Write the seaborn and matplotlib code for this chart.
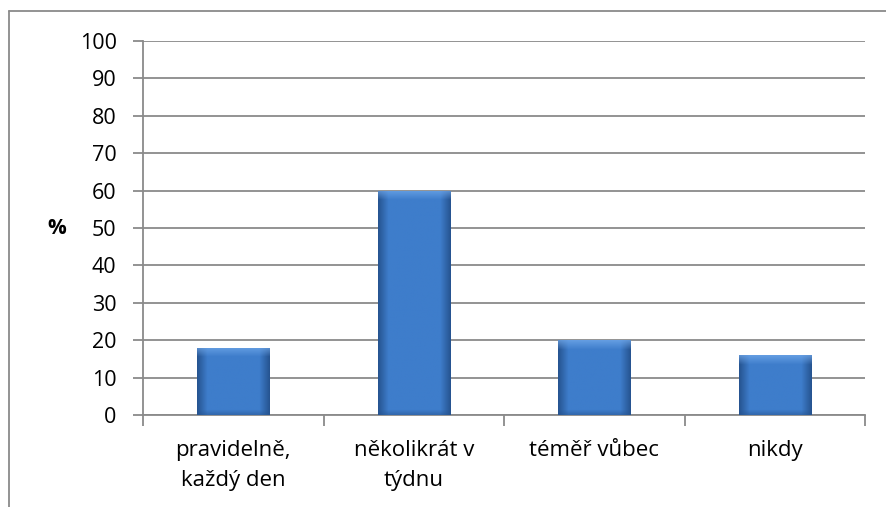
import numpy as np
import pandas as pd
import matplotlib
matplotlib.use("Agg")
from matplotlib import pyplot as plt
from matplotlib.lines import Line2D
import seaborn as sns

categories = ["pravidelně,\nkaždý den", "několikrát v\ntýdnu", "téměř vůbec", "nikdy"]
values = [18, 60, 20, 16]
y_ticks = list(range(0, 101, 10))

sns.set_style("white")
plt.rcParams['font.family'] = ['Open Sans', 'DejaVu Sans']
plt.rcParams['text.color'] = 'black'
plt.rcParams['xtick.color'] = 'black'
plt.rcParams['ytick.color'] = 'black'

df = pd.DataFrame({"kategorie": categories, "procenta": values})

fig = plt.figure(figsize=(8.86, 5.07), dpi=100)
ax = fig.add_axes([143 / 886, 1 - 415 / 507, (865 - 143) / 886, (415 - 41) / 507])

sns.barplot(data=df, x="kategorie", y="procenta", color="#3E7DCB", width=0.4,
            ax=ax, zorder=3)

ax.set_ylim(0, 100)
ax.set_xlim(-0.5, len(categories) - 0.5)
ax.set_yticks(y_ticks)
ax.yaxis.grid(True, color="#8a8a8a", linewidth=1.3, zorder=0)
ax.set_axisbelow(True)
ax.set_xlabel("")
ax.set_ylabel("%", rotation=0, fontsize=15, fontweight="bold", va="center", ha="center",
              color="black")
ax.yaxis.set_label_coords((57 - 143) / 722, 0.5)

for side in ["top", "right"]:
    ax.spines[side].set_visible(False)
for side in ["left", "bottom"]:
    ax.spines[side].set_color("#8a8a8a")
    ax.spines[side].set_linewidth(1.3)

ax.tick_params(axis="y", which="major", length=7, width=1.3, color="#8a8a8a",
               labelcolor="black", labelsize=15.5, pad=12, left=True)
ax.tick_params(axis="x", which="major", length=0, labelsize=16, labelcolor="black", pad=18)
ax.set_xticks(np.arange(-0.5, len(categories)), minor=True)
ax.tick_params(axis="x", which="minor", length=8, width=1.3, color="#8a8a8a", bottom=True)
for lbl in ax.get_xticklabels():
    lbl.set_linespacing(1.55)

# Excel-like bevelled gradient on each bar
fig.canvas.draw()
for patch in ax.patches:
    x0, y0 = patch.get_x(), patch.get_y()
    w, h = patch.get_width(), patch.get_height()
    bb = patch.get_window_extent()
    cols, rows = max(int(bb.width), 2), max(int(bb.height), 2)
    xs = np.linspace(-1, 1, cols)
    side = np.clip((np.abs(xs) - 0.72) / 0.28, 0, 1)
    base = np.array([62, 125, 203]) / 255
    dark = np.array([38, 84, 145]) / 255
    light = np.array([115, 170, 235]) / 255
    img = np.empty((rows, cols, 3))
    for i in range(rows):
        img[i] = base * (1 - side[:, None]) + dark * side[:, None]
    bevel = min(9, rows // 3)
    for i in range(bevel):
        t = 1 - i / bevel
        img[i] = img[i] * (1 - 0.7 * t) + light * 0.7 * t
    for i in range(min(5, rows // 4)):
        t = 1 - i / 5
        img[rows - 1 - i] = img[rows - 1 - i] * (1 - 0.5 * t) + dark * 0.5 * t
    im = ax.imshow(img, extent=(x0, x0 + w, y0, y0 + h), aspect="auto",
                   zorder=4, origin="upper", interpolation="bilinear")
    im.set_clip_path(patch)
    patch.set_edgecolor("none")

ax.set_xlim(-0.5, len(categories) - 0.5)
ax.set_ylim(0, 100)

# outer chart border (left and top visible)
fig.add_artist(Line2D([9 / 886, 9 / 886], [0, 1 - 11 / 507], transform=fig.transFigure,
                      color="#8a8a8a", linewidth=1.3))
fig.add_artist(Line2D([9 / 886, 1], [1 - 11 / 507, 1 - 11 / 507], transform=fig.transFigure,
                      color="#8a8a8a", linewidth=1.3))

fig.savefig("out.png", dpi=100)
